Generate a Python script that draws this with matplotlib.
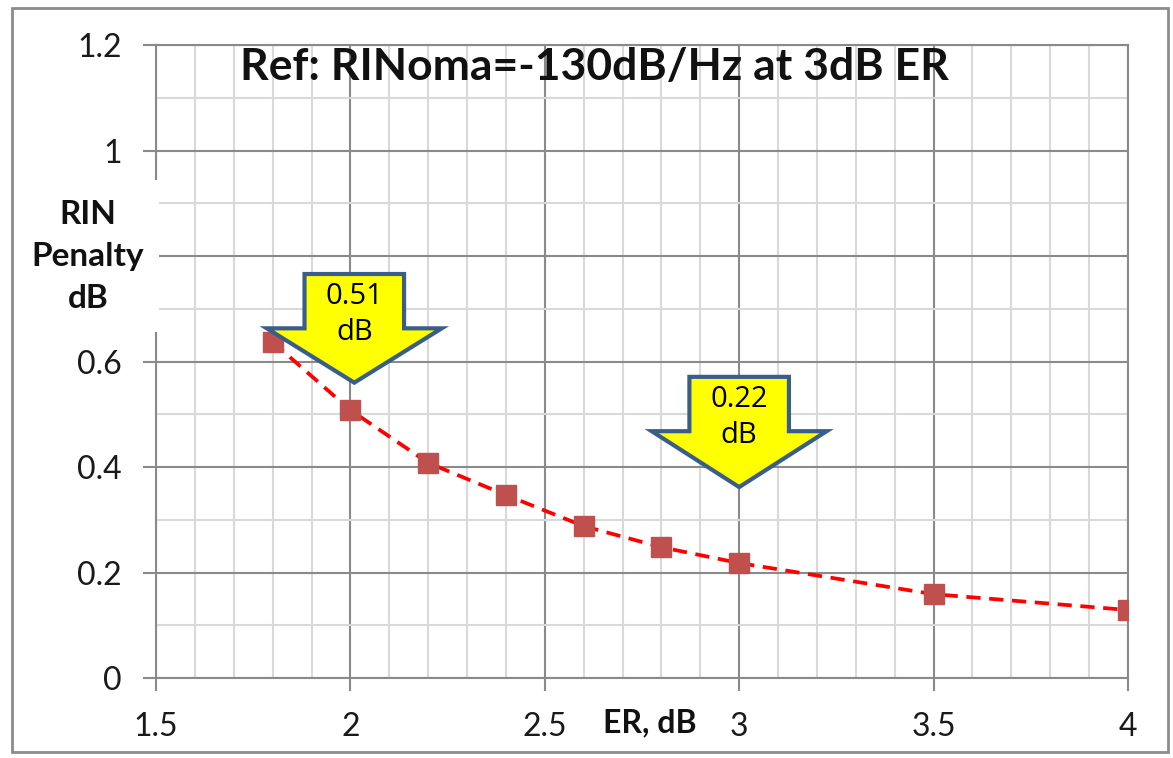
import matplotlib.pyplot as plt
from matplotlib.patches import Polygon, Rectangle
from matplotlib.ticker import MultipleLocator

# data
er_db = [1.8, 2.0, 2.2, 2.4, 2.6, 2.8, 3.0, 3.5, 4.0]
penalty_db = [0.637, 0.508, 0.408, 0.347, 0.288, 0.248, 0.218, 0.159, 0.129]

x_ticks = [1.5, 2, 2.5, 3, 3.5, 4]
x_labels = ['1.5', '2', '2.5', '3', '3.5', '4']
y_ticks = [0, 0.2, 0.4, 0.6, 0.8, 1.0, 1.2]
y_labels = ['0', '0.2', '0.4', '0.6', '', '1', '1.2']  # 0.8 is hidden under the axis title

# callout arrows: x, tip y, head y, shaft top y, text centre y, text
arrow_x = [2.01, 3.0]
arrow_tip = [0.560, 0.362]
arrow_head = [0.663, 0.468]
arrow_top = [0.766, 0.571]
arrow_text_y = [0.689, 0.494]
arrow_text = ['0.51\ndB', '0.22\ndB']

plt.rcParams['font.family'] = ['Lato', 'DejaVu Sans']

fig = plt.figure(figsize=(11.73, 7.58), dpi=100)
ax = fig.add_axes([0.133, 0.1055, 0.8286, 0.835])

# outer chart border
fig.patches.append(Rectangle((0.010, 0.008), 0.986, 0.981, transform=fig.transFigure,
                             fill=False, edgecolor='#8c8c8c', linewidth=2))

ax.set_xlim(1.5, 4)
ax.set_ylim(0, 1.2)
ax.set_xticks(x_ticks)
ax.set_xticklabels(x_labels)
ax.set_yticks(y_ticks)
ax.set_yticklabels(y_labels)
ax.xaxis.set_minor_locator(MultipleLocator(0.1))
ax.yaxis.set_minor_locator(MultipleLocator(0.1))

ax.grid(True, which='major', color='#8a8a8a', linewidth=1.5)
ax.grid(True, which='minor', color='#d9d9d9', linewidth=1.5)
ax.set_axisbelow(True)
ax.tick_params(which='major', direction='out', length=9.5, width=1.5, color='#8a8a8a',
               labelsize=23, pad=15, labelcolor='#1a1a1a')
ax.tick_params(which='minor', length=0)
for s in ax.spines.values():
    s.set_color('#8a8a8a')
    s.set_linewidth(1.5)

ax.plot(er_db, penalty_db, color='#ff0000', linestyle=(0, (3.8, 2.3)), linewidth=2.7, zorder=3)
ax.plot(er_db, penalty_db, linestyle='none', marker='s', markersize=14,
        color='#c0504d', zorder=4)

# yellow block arrows
for x, tip, head, top, ty, txt in zip(arrow_x, arrow_tip, arrow_head, arrow_top,
                                      arrow_text_y, arrow_text):
    sw, hw = 0.128, 0.225
    pts = [(x - sw, top), (x + sw, top), (x + sw, head), (x + hw, head),
           (x, tip), (x - hw, head), (x - sw, head)]
    ax.add_patch(Polygon(pts, closed=True, facecolor='#ffff00', edgecolor='#3a5e8c',
                         linewidth=3, zorder=5, joinstyle='miter'))
    ax.text(x, ty, txt, ha='center', va='center', fontsize=21,
            family=['Open Sans', 'DejaVu Sans'], linespacing=1.3, zorder=6)

ax.text(0.0864, 0.9447, 'Ref: RINoma=-130dB/Hz at 3dB ER', transform=ax.transAxes,
        ha='left', va='baseline', fontsize=32, fontweight='bold', color='#111111')

# white block behind the y label (covers the axis there, as in the original)
fig.patches.append(Rectangle((0.02, 0.562), 0.1155, 0.2005, transform=fig.transFigure,
                             facecolor='white', edgecolor='none', zorder=2))
fig.text(0.075, 0.662, 'RIN\nPenalty\ndB', ha='center', va='center', fontsize=24,
         fontweight='bold', linespacing=1.55, color='#111111', zorder=3)
fig.text(0.554, 0.046, 'ER, dB', ha='center', va='center', fontsize=23, fontweight='bold',
         color='#111111', zorder=3)

fig.savefig('out.png', dpi=100)
